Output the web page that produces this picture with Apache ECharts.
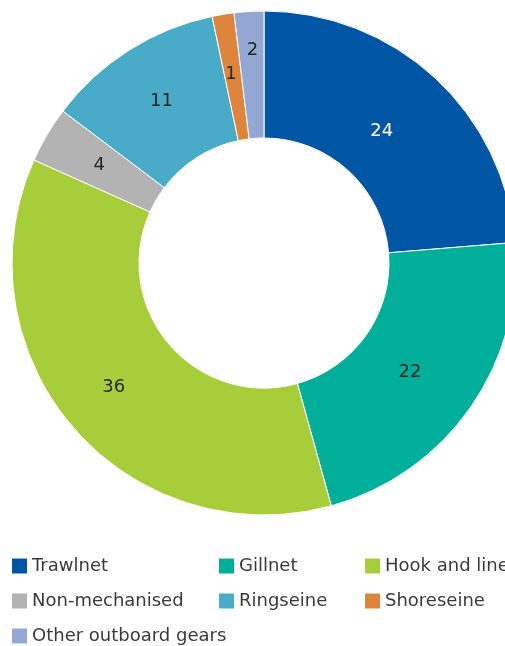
<!DOCTYPE html>
<html>
<head>
<meta charset="utf-8">
<script src="https://cdn.jsdelivr.net/npm/echarts@6/dist/echarts.min.js"></script>
<style>
  html, body { margin: 0; padding: 0; background: #fff; }
  #chart { width: 505px; height: 646px; }
</style>
</head>
<body>
<div id="chart"></div>
<script>
var gears = ['Trawlnet', 'Gillnet', 'Hook and line', 'Non-mechanised', 'Ringseine', 'Shoreseine', 'Other outboard gears'];
// shares in % (labels show them rounded)
var shares = [23.7, 22.0, 36.0, 3.6, 11.4, 1.4, 1.9];
var colors = ['#0055a5', '#00ae9a', '#a8cd3a', '#b3b3b3', '#4aabc8', '#dd853c', '#93a9d3'];
var labelColors = ['#ffffff', '#262626', '#262626', '#262626', '#262626', '#262626', '#262626'];

var chart = echarts.init(document.getElementById('chart'));

var pieData = [];
for (var i = 0; i < gears.length; i++) {
    pieData.push({
        name: gears[i],
        value: shares[i],
        itemStyle: { color: colors[i] },
        label: { color: labelColors[i] }
    });
}
// label nudges to sit where the original puts them
pieData[0].label.offset = [-12, 9];
pieData[1].label.offset = [-11, 0];
pieData[2].label.offset = [-5, 0];
pieData[6].label.offset = [0, -22];
pieData[5].label.offset = [-2, 0];

// legend laid out as a 3-column grid, one legend per cell
var legends = [];
var colX = [12, 219, 365];
for (var i = 0; i < gears.length; i++) {
    legends.push({
        left: colX[i % 3],
        top: 557 + Math.floor(i / 3) * 35,
        padding: 0,
        itemWidth: 15,
        itemHeight: 15,
        icon: 'rect',
        itemStyle: { borderWidth: 0 },
        data: [gears[i]],
        textStyle: { fontFamily: 'DejaVu Sans', fontSize: 18, color: '#3a3a3a' }
    });
}

var option = {
    animation: false,
    legend: legends,
    series: [{
        type: 'pie',
        center: [264, 263],
        radius: [125, 252],
        startAngle: 90,
        clockwise: true,
        avoidLabelOverlap: false,
        itemStyle: { borderColor: '#ffffff', borderWidth: 1 },
        label: {
            show: true,
            position: 'inside',
            formatter: function (p) { return Math.round(p.value); },
            fontFamily: 'DejaVu Sans',
            fontSize: 18
        },
        labelLine: { show: false },
        data: pieData
    }]
};

chart.setOption(option);
</script>
</body>
</html>
